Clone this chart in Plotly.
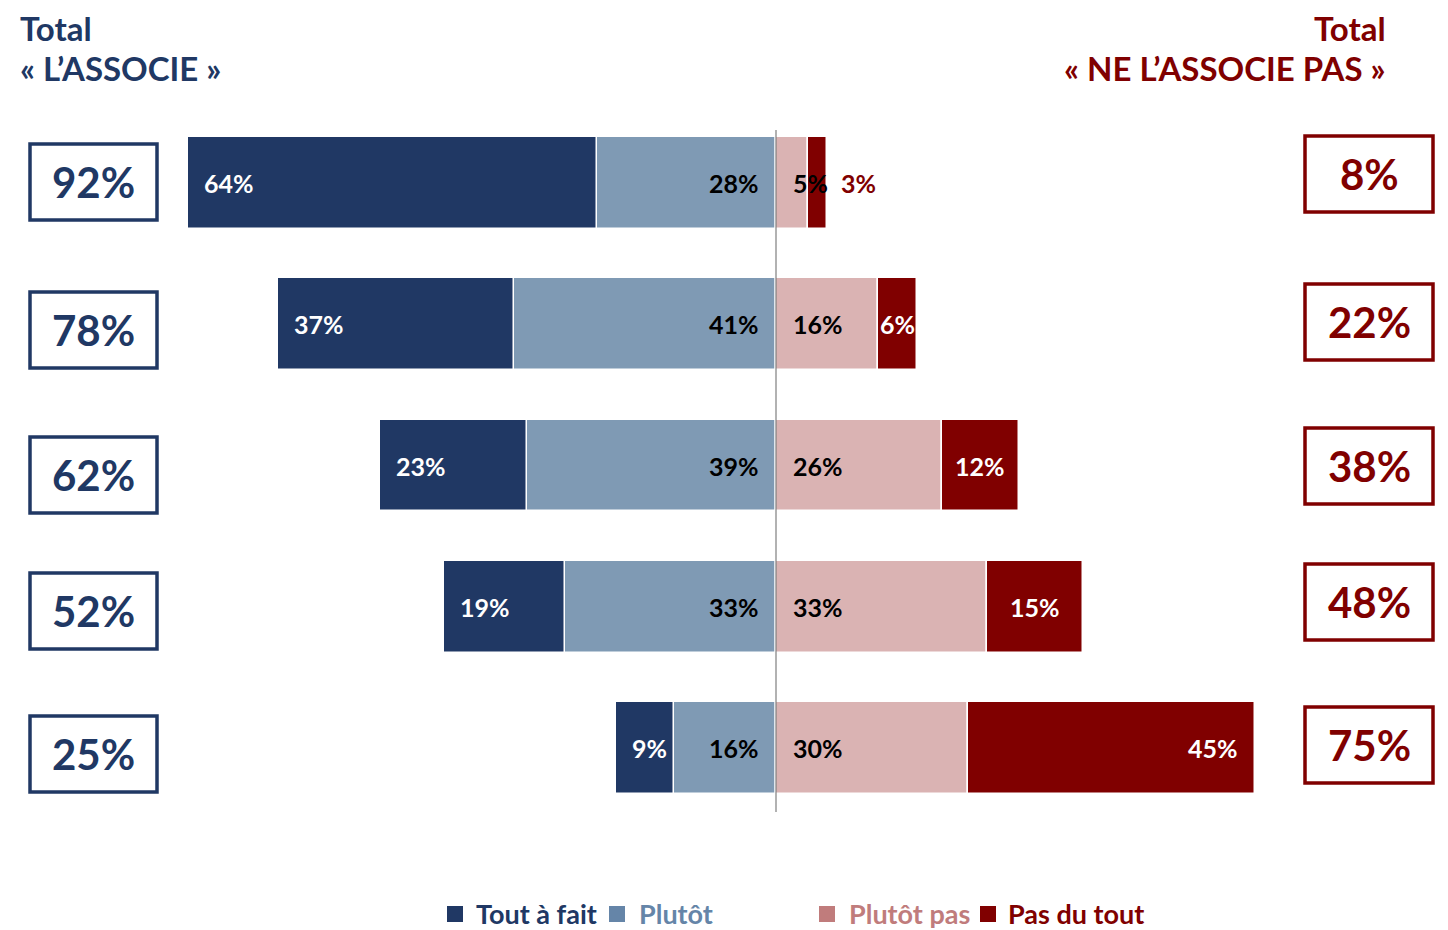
import plotly.graph_objects as go

# ---- data ----
rows = [0, 1, 2, 3, 4]
tout_a_fait = [64, 37, 23, 19, 9]
plutot = [28, 41, 39, 33, 16]
plutot_pas = [5, 16, 26, 33, 30]
pas_du_tout = [3, 6, 12, 15, 45]
legend_names = ["Tout à fait", "Plutôt", "Plutôt pas", "Pas du tout"]
title_left = ["Total", "« L’ASSOCIE »"]
title_right = ["Total", "« NE L’ASSOCIE PAS »"]

total_assoc = [a + b for a, b in zip(tout_a_fait, plutot)]
total_not = [a + b for a, b in zip(plutot_pas, pas_du_tout)]

# ---- styles ----
NAVY = "#203864"
STEEL = "#7F9AB4"
PINK = "#DAB3B3"
DARKRED = "#800000"
LEG_STEEL = "#6585A8"
LEG_PINK = "#C07C7C"
FONT = "Lato"
OFF = 8  # page body margin
W, H = 1448 - OFF, 930 - OFF


def px(x):
    return (x - OFF) / W


def py(y):
    return 1 - (y - OFF) / H


fig = go.Figure()
line = dict(color="white", width=1.5)
fig.add_trace(go.Bar(y=rows, x=[-v for v in plutot], orientation="h", marker=dict(color=STEEL, line=line), width=0.65, name=legend_names[1]))
fig.add_trace(go.Bar(y=rows, x=[-v for v in tout_a_fait], orientation="h", marker=dict(color=NAVY, line=line), width=0.65, name=legend_names[0]))
fig.add_trace(go.Bar(y=rows, x=plutot_pas, orientation="h", marker=dict(color=PINK, line=line), width=0.65, name=legend_names[2]))
fig.add_trace(go.Bar(y=rows, x=pas_du_tout, orientation="h", marker=dict(color=DARKRED, line=line), width=0.65, name=legend_names[3]))

ann = []
lab_font = dict(family=FONT, size=25, color="white")
# placement style for "Pas du tout" labels
pdt_place = ["outside", "center", "center", "center", "end"]
for i, r in enumerate(rows):
    ann.append(dict(x=-total_assoc[i], y=r, text=f"<b>{tout_a_fait[i]}%</b>", xanchor="left", xshift=14,
                    showarrow=False, font=dict(lab_font, color="white")))
    ann.append(dict(x=0, y=r, text=f"<b>{plutot[i]}%</b>", xanchor="right", xshift=-15,
                    showarrow=False, font=dict(lab_font, color="black")))
    ann.append(dict(x=0, y=r, text=f"<b>{plutot_pas[i]}%</b>", xanchor="left", xshift=15,
                    showarrow=False, font=dict(lab_font, color="black")))
    p = pdt_place[i]
    if p == "outside":
        ann.append(dict(x=total_not[i], y=r, text=f"<b>{pas_du_tout[i]}%</b>", xanchor="left", xshift=12,
                        showarrow=False, font=dict(lab_font, color=DARKRED)))
    elif p == "center":
        ann.append(dict(x=plutot_pas[i] + pas_du_tout[i] / 2, y=r, text=f"<b>{pas_du_tout[i]}%</b>", xanchor="center",
                        showarrow=False, font=dict(lab_font, color="white")))
    else:
        ann.append(dict(x=total_not[i], y=r, text=f"<b>{pas_du_tout[i]}%</b>", xanchor="right", xshift=-15,
                        showarrow=False, font=dict(lab_font, color="white")))

# total boxes
shapes = []
left_box_cy = [182, 330, 475, 611, 754]
right_box_cy = [174, 322, 466, 602, 745]
for i in range(len(rows)):
    cy = left_box_cy[i]
    shapes.append(dict(type="rect", xref="paper", yref="paper", x0=px(30), x1=px(157),
                       y0=py(cy + 38), y1=py(cy - 38), line=dict(color=NAVY, width=3.5)))
    ann.append(dict(xref="paper", yref="paper", x=px(93.5), y=py(cy), text=f"<b>{total_assoc[i]}%</b>",
                    showarrow=False, font=dict(family=FONT, size=42, color=NAVY), xanchor="center", yanchor="middle"))
    cy = right_box_cy[i]
    shapes.append(dict(type="rect", xref="paper", yref="paper", x0=px(1305), x1=px(1433),
                       y0=py(cy + 38), y1=py(cy - 38), line=dict(color=DARKRED, width=3.5)))
    ann.append(dict(xref="paper", yref="paper", x=px(1369), y=py(cy), text=f"<b>{total_not[i]}%</b>",
                    showarrow=False, font=dict(family=FONT, size=42, color=DARKRED), xanchor="center", yanchor="middle"))

# center line
shapes.append(dict(type="line", xref="x", yref="paper", x0=0, x1=0, y0=py(812), y1=py(130),
                   line=dict(color="#7F7F7F", width=1.2), layer="above"))

# titles
tfont = dict(family=FONT, size=33)
ann.append(dict(xref="paper", yref="paper", x=px(18), y=py(28), text=f"<b>{title_left[0]}</b>", xanchor="left",
                yanchor="middle", showarrow=False, font=dict(tfont, color=NAVY)))
ann.append(dict(xref="paper", yref="paper", x=px(18), y=py(68), text=f"<b>{title_left[1]}</b>", xanchor="left",
                yanchor="middle", showarrow=False, font=dict(tfont, color=NAVY)))
ann.append(dict(xref="paper", yref="paper", x=px(1388), y=py(28), text=f"<b>{title_right[0]}</b>", xanchor="right",
                yanchor="middle", showarrow=False, font=dict(tfont, color=DARKRED)))
ann.append(dict(xref="paper", yref="paper", x=px(1388), y=py(68), text=f"<b>{title_right[1]}</b>", xanchor="right",
                yanchor="middle", showarrow=False, font=dict(tfont, color=DARKRED)))

# legend (custom)
leg_sq = [(447, NAVY), (609, LEG_STEEL), (819, LEG_PINK), (980, DARKRED)]
leg_txt_x = [474, 637, 847, 1006]
leg_txt_col = [NAVY, LEG_STEEL, LEG_PINK, DARKRED]
for (sx, c), tx, tc, name in zip(leg_sq, leg_txt_x, leg_txt_col, legend_names):
    shapes.append(dict(type="rect", xref="paper", yref="paper", x0=px(sx), x1=px(sx + 16),
                       y0=py(922), y1=py(906), fillcolor=c, line=dict(width=0)))
    ann.append(dict(xref="paper", yref="paper", x=px(tx), y=py(913), text=f"<b>{name}</b>", xanchor="left",
                    yanchor="middle", showarrow=False, font=dict(family=FONT, size=27, color=tc)))

px_per = 6.39
cx = 776 - OFF
row_px = 141.25
fig.update_layout(
    width=W, height=H, barmode="relative", showlegend=False,
    margin=dict(l=0, r=0, t=0, b=0), plot_bgcolor="white", paper_bgcolor="white",
    xaxis=dict(range=[-cx / px_per, (W - cx) / px_per], visible=False, fixedrange=True),
    yaxis=dict(range=[4 + (H - (748 - OFF)) / row_px, -(183 - OFF) / row_px], visible=False, fixedrange=True),
    annotations=ann, shapes=shapes, bargap=0,
)
fig.write_html("out.html")
